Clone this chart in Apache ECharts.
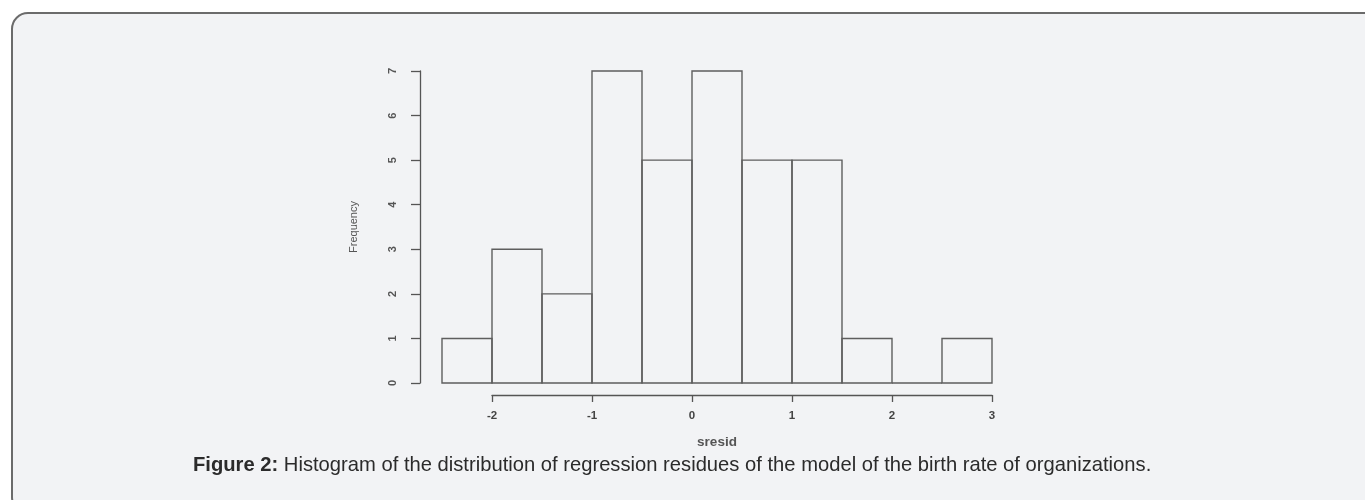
<!DOCTYPE html>
<html>
<head>
<meta charset="utf-8">
<script src="https://cdn.jsdelivr.net/npm/echarts@6/dist/echarts.min.js"></script>
<style>
html,body{margin:0;padding:0;background:#ffffff;}
#chart{width:1365px;height:500px;}
</style>
</head>
<body>
<div id="chart"></div>
<script>
// Histogram bins (lower edge, upper edge) and counts
const binStarts = [-2.5, -2.0, -1.5, -1.0, -0.5, 0.0, 0.5, 1.0, 1.5, 2.0, 2.5];
const binEnds   = [-2.0, -1.5, -1.0, -0.5, 0.0, 0.5, 1.0, 1.5, 2.0, 2.5, 3.0];
const counts    = [1, 3, 2, 7, 5, 7, 5, 5, 1, 0, 1];
const xTicks = [-2, -1, 0, 1, 2, 3];
const yTicks = [0, 1, 2, 3, 4, 5, 6, 7];
const captionBold = 'Figure 2:';
const captionText = ' Histogram of the distribution of regression residues of the model of the birth rate of organizations.';

const histData = binStarts.map((s, i) => [s, binEnds[i], counts[i]]);

const chart = echarts.init(document.getElementById('chart'), null, {renderer: 'canvas'});
const axisColor = '#555';
const FF = 'Liberation Sans, Arial, sans-serif';

chart.setOption({
  backgroundColor: 'transparent',
  animation: false,
  title: {
    text: '{b|' + captionBold + '}{n|' + captionText + '}',
    left: 188, top: 450,
    textStyle: {
      fontWeight: 'normal',
      rich: {
        b: {fontFamily: FF, fontSize: 20.2, fontWeight: 'bold', color: '#2b2b2b'},
        n: {fontFamily: FF, fontSize: 20.2, fontWeight: 'normal', color: '#2b2b2b'}
      }
    }
  },
  graphic: [{
    type: 'rect', z: -10, silent: true,
    shape: {x: 12, y: 13, width: 1400, height: 500, r: 16},
    style: {fill: '#f2f3f5', stroke: '#6b6b6b', lineWidth: 2}
  }],
  grid: [
    {left: 442, right: 373, top: 71, bottom: 117, containLabel: false},
    {left: 492, right: 373, top: 71, bottom: 117, containLabel: false}
  ],
  xAxis: [
    {
      gridIndex: 0, type: 'value', min: -2.5, max: 3,
      axisLine: {show: false, onZero: false}, axisTick: {show: false}, axisLabel: {show: false}, splitLine: {show: false},
      name: 'sresid', nameLocation: 'middle', nameGap: 52,
      nameTextStyle: {fontFamily: FF, fontSize: 13.5, color: '#555', fontWeight: 'bold', verticalAlign: 'top'}
    },
    {
      gridIndex: 1, type: 'value', min: xTicks[0], max: xTicks[xTicks.length - 1], interval: 1,
      offset: 12,
      axisLine: {show: true, onZero: false, lineStyle: {color: axisColor, width: 1.3}},
      axisTick: {show: true, length: 7, inside: false, lineStyle: {color: axisColor, width: 1.3}},
      axisLabel: {margin: 15, formatter: v => String(v), fontFamily: FF, fontSize: 11.5, color: '#444', fontWeight: 'bold'},
      splitLine: {show: false}
    }
  ],
  yAxis: [
    {
      gridIndex: 0, type: 'value', min: yTicks[0], max: yTicks[yTicks.length - 1], interval: 1,
      offset: 22,
      axisLine: {show: true, onZero: false, lineStyle: {color: axisColor, width: 1.3}},
      axisTick: {show: true, length: 9, lineStyle: {color: axisColor, width: 1.3}},
      axisLabel: {margin: 22, rotate: 90, fontFamily: FF, fontSize: 11, color: '#555', fontWeight: 'bold'},
      splitLine: {show: false},
      name: 'Frequency', nameLocation: 'middle', nameGap: 61, nameRotate: 90,
      nameTextStyle: {fontFamily: FF, fontSize: 11, color: '#555'}
    },
    {gridIndex: 1, type: 'value', min: 0, max: 7, show: false}
  ],
  series: [{
    type: 'custom',
    xAxisIndex: 0, yAxisIndex: 0,
    data: histData,
    renderItem: function (params, api) {
      const p0 = api.coord([api.value(0), 0]);
      const p1 = api.coord([api.value(1), api.value(2)]);
      return {
        type: 'rect',
        shape: {x: p0[0], y: p1[1], width: p1[0] - p0[0], height: p0[1] - p1[1]},
        style: {fill: 'none', stroke: '#5e5e5e', lineWidth: 1.4}
      };
    }
  }]
});
</script>
</body>
</html>
